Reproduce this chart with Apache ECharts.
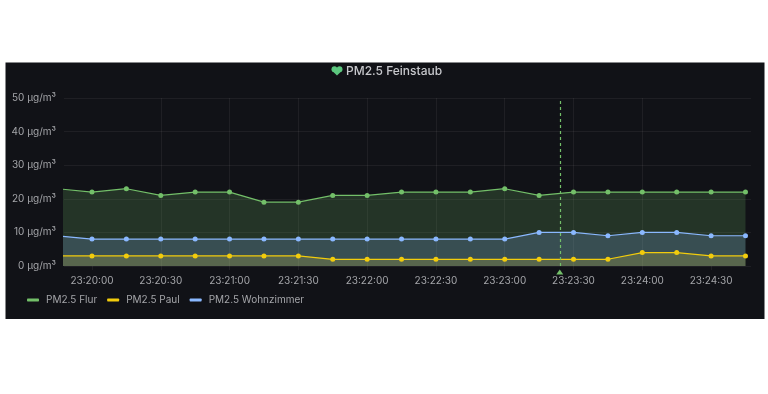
<!DOCTYPE html>
<html>
<head>
<meta charset="utf-8">
<style>
html, body { margin: 0; padding: 0; background: #fff; }
#main { width: 768px; height: 394px; }
</style>
<script src="https://cdn.jsdelivr.net/npm/echarts@6/dist/echarts.min.js"></script>
</head>
<body>
<div id="main"></div>
<script>
var times = ['23:19:45', '23:20:00', '23:20:15', '23:20:30', '23:20:45', '23:21:00', '23:21:15',
	'23:21:30', '23:21:45', '23:22:00', '23:22:15', '23:22:30', '23:22:45', '23:23:00',
	'23:23:15', '23:23:30', '23:23:45', '23:24:00', '23:24:15', '23:24:30', '23:24:45'];
var flur = [23, 22, 23, 21, 22, 22, 19, 19, 21, 21, 22, 22, 22, 23, 21, 22, 22, 22, 22, 22, 22];
var paul = [3, 3, 3, 3, 3, 3, 3, 3, 2, 2, 2, 2, 2, 2, 2, 2, 2, 4, 4, 3, 3];
var wohnzimmer = [9, 8, 8, 8, 8, 8, 8, 8, 8, 8, 8, 8, 8, 8, 10, 10, 9, 10, 10, 9, 9];
var tickTimes = ['23:20:00', '23:20:30', '23:21:00', '23:21:30', '23:22:00', '23:22:30',
	'23:23:00', '23:23:30', '23:24:00', '23:24:30'];
var annotationTime = '23:23:24';

function toTime(t) {
	return new Date('2023-01-01T' + t).getTime();
}
function pairs(values) {
	return values.map(function (v, i) { return [toTime(times[i]), v]; });
}
function lineSeries(name, color, values) {
	return {
		name: name,
		type: 'line',
		data: pairs(values),
		symbol: 'circle',
		symbolSize: 5,
		showAllSymbol: true,
		smooth: false,
		clip: true,
		lineStyle: { color: color, width: 1.2 },
		itemStyle: { color: color },
		areaStyle: { color: color, opacity: 0.2 }
	};
}

var series = [
	lineSeries('PM2.5 Flur', '#73BF69', flur),
	lineSeries('PM2.5 Paul', '#F2CC0C', paul),
	lineSeries('PM2.5 Wohnzimmer', '#8AB8FF', wohnzimmer)
];
// Annotation marker
series[0].markLine = {
	silent: true,
	symbol: 'none',
	animation: false,
	label: { show: false },
	lineStyle: { color: '#73BF69', type: [3, 3], width: 1.2 },
	data: [{ xAxis: toTime(annotationTime) }]
};
series[0].markPoint = {
	silent: true,
	animation: false,
	symbol: 'triangle',
	symbolSize: [7, 5],
	symbolOffset: [0, 6],
	itemStyle: { color: '#73BF69' },
	label: { show: false },
	data: [{ coord: [toTime(annotationTime), 0] }]
};

var tickValues = tickTimes.map(toTime);
var gridColor = 'rgba(255,255,255,0.06)';
var labelColor = '#a4a5a9';
var heartColor = '#5CC77F';

var myChart = echarts.init(document.getElementById('main'));
myChart.setOption({
	animation: false,
	backgroundColor: '#fff',
	textStyle: { fontFamily: 'Inter' },
	graphic: [{
		type: 'rect',
		z: -10,
		shape: { x: 5.5, y: 62.5, width: 759, height: 256.5 },
		style: { fill: '#111217' }
	},
	// heart icon in front of the title
	{ type: 'circle', z: 10, shape: { cx: 334.4, cy: 69.2, r: 2.9 }, style: { fill: heartColor } },
	{ type: 'circle', z: 10, shape: { cx: 339.6, cy: 69.2, r: 2.9 }, style: { fill: heartColor } },
	{ type: 'polygon', z: 10, shape: { points: [[331.7, 70.4], [337, 75.6], [342.3, 70.4], [337, 68]] }, style: { fill: heartColor } }
	],
	title: {
		left: 341,
		top: 60,
		text: 'PM2.5 Feinstaub',
		textStyle: {
			fontFamily: 'Inter',
			fontSize: 12,
			fontWeight: 500,
			color: '#c7c8cc'
		}
	},
	legend: {
		left: 22,
		top: 290,
		icon: 'roundRect',
		itemWidth: 12,
		itemHeight: 3,
		itemGap: 10,
		textStyle: { color: labelColor, fontSize: 10, fontFamily: 'Inter', padding: [0, 0, 0, 2] },
		data: ['PM2.5 Flur', 'PM2.5 Paul', 'PM2.5 Wohnzimmer']
	},
	grid: { left: 64, right: 17, top: 98, bottom: 128 },
	xAxis: {
		type: 'value',
		min: toTime('23:19:47.8'),
		max: toTime('23:24:47.4'),
		axisLine: { show: false },
		axisTick: { show: true, length: 4, customValues: tickValues, lineStyle: { color: gridColor } },
		axisLabel: {
			color: labelColor,
			fontSize: 10,
			margin: 10,
			customValues: tickValues,
			formatter: function (value) {
				return echarts.time.format(value, '{HH}:{mm}:{ss}', false);
			}
		},
		splitLine: { show: true, showMinLine: false, showMaxLine: false, lineStyle: { color: gridColor } }
	},
	yAxis: {
		type: 'value',
		min: 0,
		max: 50,
		interval: 10,
		axisLine: { show: false },
		axisTick: { show: false },
		axisLabel: { color: labelColor, fontSize: 10, margin: 8, padding: [1, 0, 0, 0], formatter: '{value} µg/m³' },
		splitLine: { show: true, lineStyle: { color: gridColor } }
	},
	series: series
});
</script>
</body>
</html>
